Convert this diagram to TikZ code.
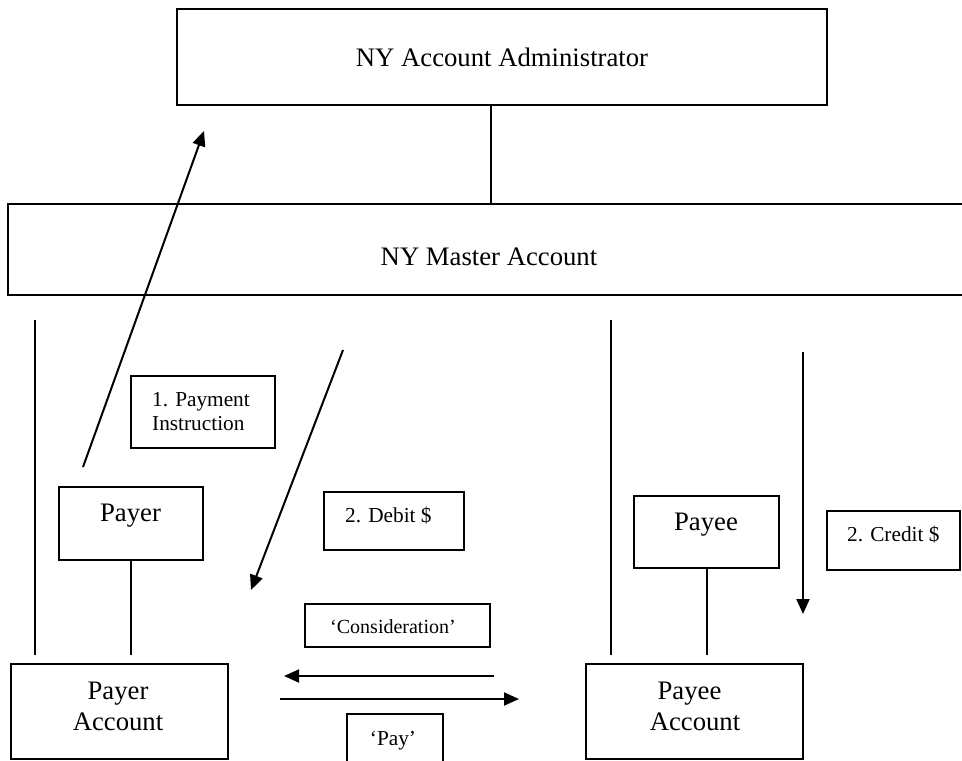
\documentclass[tikz,border=0pt]{standalone}
\usepackage{fontspec}
\setmainfont{Liberation Serif}
\usetikzlibrary{arrows.meta}
\begin{document}
\begin{tikzpicture}[x=1pt,y=-1pt,
  box/.style={draw, line width=2.2pt, inner sep=0pt, rectangle},
  frame/.style={draw=none, inner sep=0pt, rectangle},
  link/.style={line width=2pt},
  flow/.style={line width=2pt, -{Triangle[length=15pt,width=13pt]}},
  big/.style={font=\fontsize{26.7}{31}\selectfont, inner sep=0pt},
  small/.style={font=\fontsize{21.3}{24}\selectfont, inner sep=0pt},
]
\fill[white] (0,0) rectangle (962,761);
\useasboundingbox (0,0) rectangle (962,761);

% ---- boxes ----
\node[box, minimum width=650, minimum height=96] (admin) at (502,57) {};
\node[frame, minimum width=954, minimum height=91] (master) at (485,249.5) {};
\draw[line width=2.2pt] (master.north east) -- (master.north west)
  -- (master.south west) -- (master.south east);

\node[box, minimum width=144, minimum height=72] (instr) at (203,412) {};
\node[box, minimum width=144, minimum height=73] (payer) at (131,523.5) {};
\node[box, minimum width=140, minimum height=58] (debit) at (394,521) {};
\node[box, minimum width=145, minimum height=72] (payee) at (706.5,532) {};
\node[box, minimum width=133, minimum height=59] (credit) at (893.5,540.5) {};
\node[box, minimum width=185, minimum height=43] (consid) at (397.5,625.5) {};
\node[frame, minimum width=96, minimum height=47] (pay) at (395,737.5) {};
\draw[line width=2.2pt] (pay.south west) -- (pay.north west)
  -- (pay.north east) -- (pay.south east);
\node[box, minimum width=217, minimum height=95] (payeracct) at (119.5,711.5) {};
\node[box, minimum width=217, minimum height=95] (payeeacct) at (694.5,711.5) {};

% ---- texts ----
\node[big, anchor=base] (admintext) at (502,66.5) {NY Account Administrator};
\node[big, anchor=base] (mastertext) at (489,265) {NY Master Account};
\node[small, anchor=base west] (instrA) at (152,406.7) {1. Payment};
\node[small, anchor=base west] (instrB) at (152,430.7) {Instruction};
\node[big, anchor=base] (payertext) at (130.5,521.7) {Payer};
\node[small, anchor=base west] (debittext) at (345,522) {2. Debit \$};
\node[big, anchor=base] (payeetext) at (706,530) {Payee};
\node[small, anchor=base west] (credittext) at (847,541.7) {2. Credit \$};
\node[font=\fontsize{20}{24}\selectfont, inner sep=0pt, anchor=base] (considtext) at (393,633.3) {‘Consideration’};
\node[small, anchor=base] (paytext) at (393,745) {‘Pay’};
\node[big, anchor=base] (payeraA) at (118,699) {Payer};
\node[big, anchor=base] (payeraB) at (118,730) {Account};
\node[big, anchor=base] (payeeaA) at (689.5,699) {Payee};
\node[big, anchor=base] (payeeaB) at (695,730) {Account};

% ---- free ends of connectors ----
\coordinate (adminlink) at (491,0);
\coordinate (leftTop) at (35,320);
\coordinate (leftBot) at (35,655);
\coordinate (midTop) at (611,320);
\coordinate (midBot) at (611,655);
\coordinate (payerEnd) at (131,655);
\coordinate (payeeEnd) at (706.5,655);
\coordinate (instrFrom) at (83,467);
\coordinate (instrTo) at (204,131);
\coordinate (debitFrom) at (343,350);
\coordinate (debitTo) at (251,590);
\coordinate (creditFrom) at (803,352);
\coordinate (creditTo) at (803,614);
\coordinate (considFrom) at (494,676);
\coordinate (considTo) at (284,676);
\coordinate (payFrom) at (280,699);
\coordinate (payTo) at (519,699);

% ---- connectors ----
\draw[link] (admin.south -| adminlink) -- (master.north -| adminlink);
\draw[link] (leftTop) -- (leftBot);
\draw[link] (midTop) -- (midBot);
\draw[link] (payer.south) -- (payerEnd);
\draw[link] (payee.south) -- (payeeEnd);
\draw[flow] (instrFrom) -- (instrTo);
\draw[flow] (debitFrom) -- (debitTo);
\draw[flow] (creditFrom) -- (creditTo);
\draw[flow] (considFrom) -- (considTo);
\draw[flow] (payFrom) -- (payTo);
\end{tikzpicture}
\end{document}
